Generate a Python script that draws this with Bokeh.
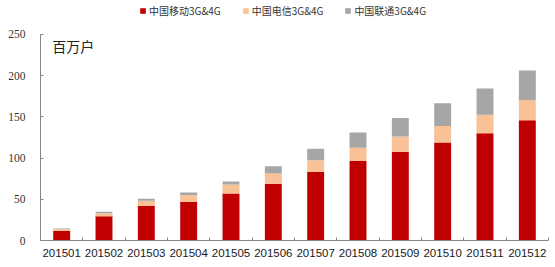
import numpy as np
from bokeh.plotting import figure
from bokeh.models import ColumnDataSource, FixedTicker, Legend, LegendItem, Label, Range1d
from bokeh.embed import file_html
from bokeh.resources import INLINE

months = ["201501", "201502", "201503", "201504", "201505", "201506",
          "201507", "201508", "201509", "201510", "201511", "201512"]
cmcc = [11.6, 29.3, 41.8, 46.6, 57.0, 68.7, 83.1, 96.4, 107.6, 118.9, 130.0, 145.7]
ctcc = [2.1, 3.6, 6.4, 8.4, 10.9, 12.4, 14.1, 16.0, 18.4, 20.0, 22.6, 24.7]
cucc = [0.8, 2.1, 2.4, 3.2, 3.6, 8.9, 14.0, 18.6, 22.6, 27.5, 31.6, 35.6]
series_names = ["中国移动3G&4G", "中国电信3G&4G", "中国联通3G&4G"]
colors = ["#C00000", "#F8C196", "#A6A6A6"]
y_ticks = [0, 50, 100, 150, 200, 250]
unit_label = "百万户"

xs = [i + 0.5 for i in range(len(months))]
source = ColumnDataSource(dict(x=xs, cmcc=cmcc, ctcc=ctcc, cucc=cucc))

p = figure(width=555, height=267, output_backend="svg", toolbar_location=None,
           x_range=Range1d(0, len(months)), y_range=Range1d(0, 291),
           min_border_left=40, min_border_right=7, min_border_top=0, min_border_bottom=27)

renderers = p.vbar_stack(["cmcc", "ctcc", "cucc"], x="x", width=0.4, color=colors,
                         line_color=None, source=source)

p.xgrid.visible = False
p.ygrid.visible = False
p.outline_line_color = None
p.background_fill_color = "white"
p.border_fill_color = "white"

# x axis
xa = p.xaxis[0]
xa.ticker = FixedTicker(ticks=xs, minor_ticks=list(range(len(months) + 1)))
xa.major_label_overrides = {x: m for x, m in zip(xs, months)}
xa.major_tick_in = 0
xa.major_tick_out = 0
xa.minor_tick_in = 3
xa.minor_tick_out = 0
xa.minor_tick_line_color = "#868686"
xa.axis_line_color = "#868686"
xa.major_label_text_font = "Liberation Sans"
xa.major_label_text_font_size = "11.5px"
xa.major_label_text_color = "#1a1a1a"
xa.major_label_standoff = 8

# y axis
ya = p.yaxis[0]
ya.ticker = FixedTicker(ticks=y_ticks)
ya.bounds = (0, 250)
ya.major_tick_in = 3
ya.major_tick_out = 0
ya.minor_tick_line_color = None
ya.major_tick_line_color = "#868686"
ya.axis_line_color = "#868686"
ya.major_label_text_font = "Liberation Serif"
ya.major_label_text_font_size = "11.5px"
ya.major_label_text_color = "#333333"
ya.major_label_standoff = 15

p.add_layout(Label(x=0.28, y=236, text=unit_label, text_font="Noto Sans CJK SC",
                   text_font_size="14px", text_color="#222222", text_baseline="middle"))

legend = Legend(items=[LegendItem(label=n, renderers=[r]) for n, r in zip(series_names, renderers)],
                orientation="horizontal", location=(99, 222), padding=0, margin=0,
                spacing=21, glyph_width=7, glyph_height=7, label_standoff=3,
                label_text_font="Noto Sans CJK SC", label_text_font_size="10px",
                label_text_color="#333333", border_line_color=None,
                background_fill_alpha=0)
p.add_layout(legend, "center")

open("out.html", "w").write(file_html(p, INLINE))
